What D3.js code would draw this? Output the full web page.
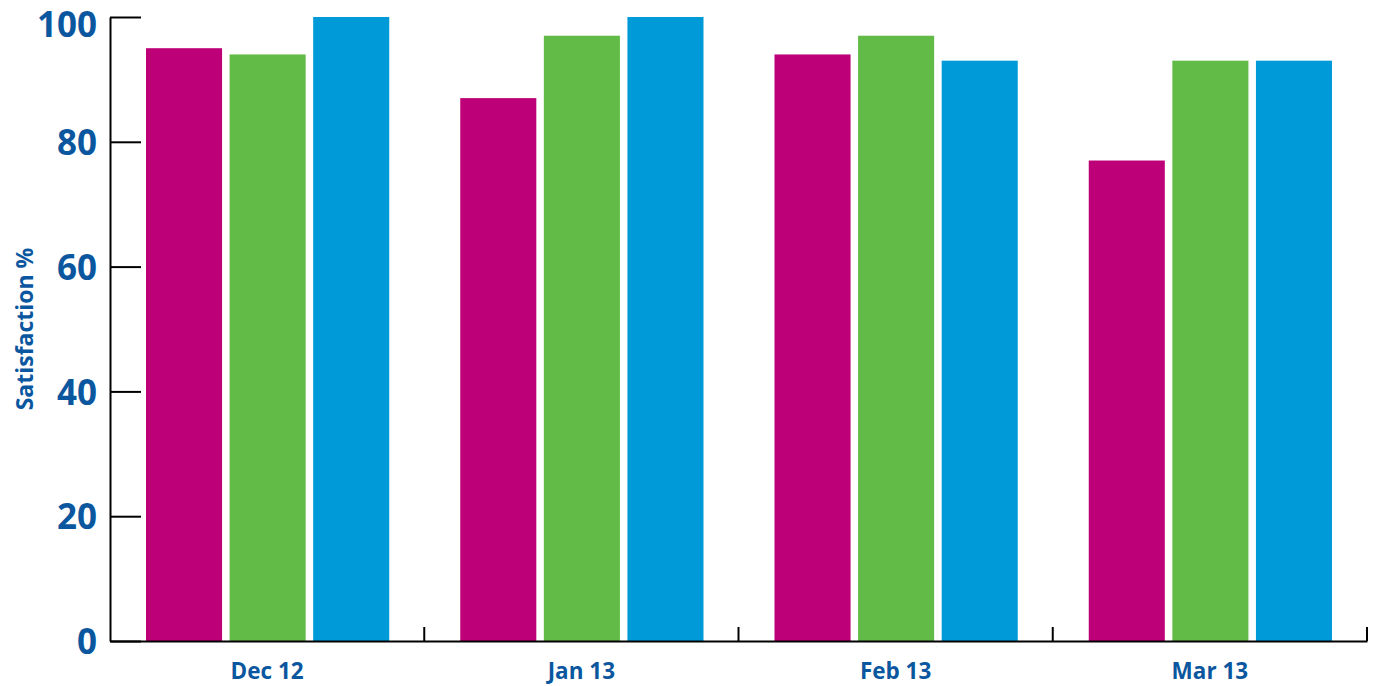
<!DOCTYPE html>
<html>
<head>
<meta charset="utf-8">
<script src="https://cdn.jsdelivr.net/npm/d3@7"></script>
<style>
  html, body { margin: 0; padding: 0; background: #fff; }
  svg { display: block; }
  text { font-family: "Open Sans", "Noto Sans", sans-serif; font-weight: 700; fill: #0b579f; }
</style>
</head>
<body>
<svg id="chart" width="1377" height="686"></svg>
<script>
// Monthly satisfaction scores for three groups
const months = ["Dec 12", "Jan 13", "Feb 13", "Mar 13"];
const seriesNames = ["A", "B", "C"];
const seriesA = [95, 87, 94, 77];
const seriesB = [94, 97, 97, 93];
const seriesC = [100, 100, 93, 93];
const yTicks = [0, 20, 40, 60, 80, 100];
const seriesColors = ["#be0078", "#62bb46", "#009ad8"];

const allSeries = [seriesA, seriesB, seriesC];
const rows = months.map((m, i) => ({
  month: m,
  values: seriesNames.map((s, j) => ({ key: s, value: allSeries[j][i] }))
}));

const svg = d3.select("#chart");
const margin = { left: 110, right: 10, top: 17, bottom: 45 };
const W = 1377, H = 686;
const x0 = margin.left, x1 = W - margin.right;
const yBottom = H - margin.bottom, yTop = margin.top;

const x = d3.scaleBand().domain(months).range([x0, x1]).padding(0);
const xInner = d3.scaleBand().domain(seriesNames)
  .range([36, x.bandwidth() - 35]).paddingInner(0.09);
const y = d3.scaleLinear().domain([0, 100]).range([yBottom, yTop]);
const color = d3.scaleOrdinal().domain(seriesNames).range(seriesColors);

// bars
svg.append("g").selectAll("g")
  .data(rows)
  .join("g")
  .attr("transform", d => `translate(${x(d.month)},0)`)
  .selectAll("rect")
  .data(d => d.values)
  .join("rect")
  .attr("x", d => xInner(d.key))
  .attr("width", xInner.bandwidth())
  .attr("y", d => y(d.value))
  .attr("height", d => y(0) - y(d.value))
  .attr("fill", d => color(d.key));

// y axis: ticks point into the plot, labels on the left
const yAxis = svg.append("g")
  .attr("transform", `translate(${x0},0)`)
  .call(d3.axisLeft(y).tickValues(yTicks).tickSize(-31).tickSizeOuter(0).tickPadding(13));
yAxis.select(".domain").attr("stroke", "#000").attr("stroke-width", 2);
yAxis.selectAll(".tick line").attr("stroke", "#000").attr("stroke-width", 2);
yAxis.selectAll(".tick text")
  .style("font-size", "35px")
  .attr("dy", d => d === 100 ? "0.56em" : "0.36em")
  .attr("fill", "#0b579f");

// x axis: category labels centred in each band, ticks on band boundaries
const xAxis = svg.append("g")
  .attr("transform", `translate(0,${yBottom})`)
  .call(d3.axisBottom(x).tickSize(0).tickPadding(22));
xAxis.select(".domain").attr("stroke", "#000").attr("stroke-width", 2);
xAxis.selectAll(".tick text")
  .style("font-size", "22.5px")
  .attr("fill", "#0b579f");
xAxis.selectAll(".boundary")
  .data(months)
  .join("line")
  .attr("class", "boundary")
  .attr("x1", d => x(d) + x.bandwidth())
  .attr("x2", d => x(d) + x.bandwidth())
  .attr("y1", 0)
  .attr("y2", -14)
  .attr("stroke", "#000")
  .attr("stroke-width", 2);

// y axis title
svg.append("text")
  .attr("transform", `translate(33,${(yTop + yBottom) / 2}) rotate(-90)`)
  .attr("text-anchor", "middle")
  .style("font-size", "23px")
  .text("Satisfaction %");
</script>
</body>
</html>
